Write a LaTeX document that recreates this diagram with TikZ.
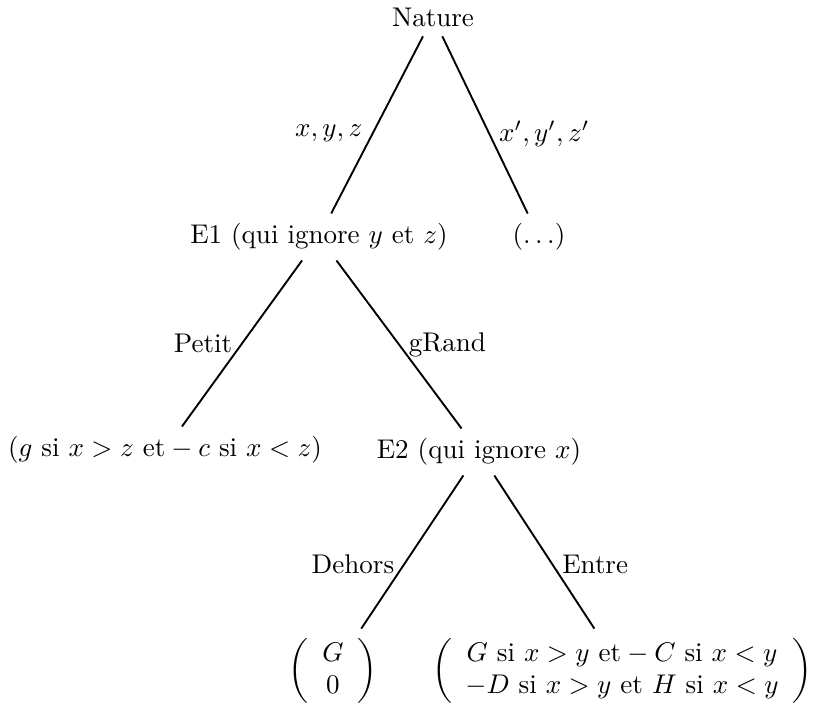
\documentclass[tikz,border=0pt]{standalone}
\usepackage{amsmath}
\begin{document}
\begin{tikzpicture}[x=0.37pt, y=-0.37pt, line width=0.7pt]
  \useasboundingbox (0,0) rectangle (814,706);
  \node (nat) at (433,17) {Nature};
  \node (e1) at (319,237) {E1 (qui ignore $y$ et $z$)};
  \node (autre) at (539,237) {$(\ldots)$};
  \node (petit) at (165,450) {$(g \mbox{ si } x > z \mbox{ et} - c \mbox{ si } x < z)$};
  \node (e2) at (479,452) {E2 (qui ignore $x$)};
  \node (dehors) at (333,671) {$\left(\begin{array}{c} G\\ 0 \end{array}\right)$};
  \node (entre) at (622,671) {$\left(\begin{array}{c}
      G \mbox{ si } x > y \mbox{ et} - C \mbox{ si } x < y\\
      -D \mbox{ si } x > y \mbox{ et } H \mbox{ si } x < y
    \end{array}\right)$};
  \draw (nat) -- node[left, pos=.55] {$x,y,z$} (e1);
  \draw (nat) -- node[right, pos=.55] {$x',y',z'$} (autre);
  \draw (e1) -- node[left] {Petit} (petit);
  \draw (e1) -- node[right] {gRand} (e2);
  \draw (e2) -- node[left, pos=.58] {Dehors} (dehors);
  \draw (e2) -- node[right, pos=.58] {Entre} (entre);
\end{tikzpicture}
\end{document}
